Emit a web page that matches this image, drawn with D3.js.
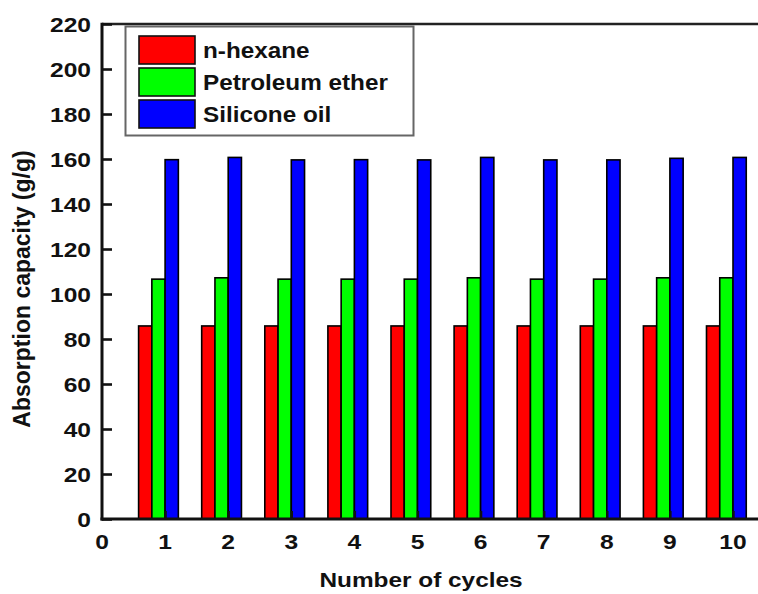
<!DOCTYPE html>
<html>
<head>
<meta charset="utf-8">
<script src="https://cdn.jsdelivr.net/npm/d3@7"></script>
<style>
  html, body { margin: 0; padding: 0; background: #fff; }
  svg { display: block; }
  text { font-family: "Liberation Sans", Arial, sans-serif; font-weight: bold; fill: #111; }
</style>
</head>
<body>
<svg id="chart" width="758" height="594"></svg>
<script>
// Absorption capacity over repeated cycles
const cycles = [1, 2, 3, 4, 5, 6, 7, 8, 9, 10];
const hexane    = [85.8, 85.8, 85.8, 85.8, 85.8, 85.8, 85.8, 85.8, 85.8, 85.8];
const petroleum = [106.6, 107.2, 106.6, 106.6, 106.6, 107.2, 106.6, 106.6, 107.2, 107.2];
const silicone  = [159.7, 160.7, 159.6, 159.7, 159.6, 160.7, 159.6, 159.6, 160.3, 160.7];
const seriesNames = ["n-hexane", "Petroleum ether", "Silicone oil"];
const seriesColors = ["#ff0000", "#00ff00", "#0000ff"];
const yTicks = [0, 20, 40, 60, 80, 100, 120, 140, 160, 180, 200, 220];
const xTicks = [0, 1, 2, 3, 4, 5, 6, 7, 8, 9, 10];

const seriesValues = [hexane, petroleum, silicone];

const svg = d3.select("#chart");
const plotLeft = 102, plotBottom = 519, plotTop = 24;
const x = d3.scaleLinear().domain([0, 11]).range([plotLeft, plotLeft + 11 * 63.1]);
const y = d3.scaleLinear().domain([0, 220]).range([plotBottom, plotTop]);

const barW = 0.21;          // bar width in cycle units
const offsets = [-2, -1, 0]; // bar start offsets in bar widths

// helper: horizontally widened text
function wideText(g, tx, ty, str, size, sx, anchor) {
  const t = g.append("g").attr("transform", `translate(${tx},${ty}) scale(${sx},1)`);
  return t.append("text").attr("x", 0).attr("y", 0)
    .attr("font-size", size).attr("text-anchor", anchor || "start").text(str);
}

// bars
seriesValues.forEach((vals, si) => {
  svg.append("g").selectAll("rect").data(cycles).join("rect")
    .attr("x", (c) => x(c + offsets[si] * barW))
    .attr("width", (c) => x(c + barW) - x(c))
    .attr("y", (c, i) => y(vals[i]))
    .attr("height", (c, i) => y(0) - y(vals[i]))
    .attr("fill", seriesColors[si])
    .attr("stroke", "#000")
    .attr("stroke-width", 1.6);
});

// top frame line
svg.append("line")
  .attr("x1", plotLeft).attr("x2", 800).attr("y1", plotTop).attr("y2", plotTop)
  .attr("stroke", "#222").attr("stroke-width", 2.6);

// y axis (ticks pointing inward)
const yAxis = svg.append("g").attr("transform", `translate(${plotLeft},0)`)
  .call(d3.axisLeft(y).tickValues(yTicks).tickSize(-10).tickFormat(""));
yAxis.select(".domain").remove();
yAxis.selectAll(".tick line").attr("stroke", "#111").attr("stroke-width", 2.6);
svg.append("line").attr("x1", plotLeft).attr("x2", plotLeft).attr("y1", plotTop - 1.3).attr("y2", plotBottom + 1.5)
  .attr("stroke", "#111").attr("stroke-width", 3);

// x axis (small ticks pointing inward)
const xAxis = svg.append("g").attr("transform", `translate(0,${plotBottom})`)
  .call(d3.axisBottom(x).tickValues(xTicks.slice(1)).tickSize(-8).tickFormat(""));
xAxis.select(".domain").remove();
xAxis.selectAll(".tick line").attr("stroke", "#111").attr("stroke-width", 2.4);
svg.append("line").attr("x1", plotLeft - 1.5).attr("x2", 800).attr("y1", plotBottom).attr("y2", plotBottom)
  .attr("stroke", "#111").attr("stroke-width", 3);

// tick labels
const labels = svg.append("g");
yTicks.forEach(v => wideText(labels, 91, y(v) + 7.5, String(v), 20.5, 1.2, "end"));
xTicks.forEach(v => wideText(labels, x(v), 549, String(v), 20.5, 1.2, "middle"));

// axis titles
wideText(svg, 421, 587, "Number of cycles", 20.5, 1.19, "middle");
svg.append("text")
  .attr("transform", "translate(30,289) rotate(-90)")
  .attr("text-anchor", "middle").attr("font-size", 23)
  .text("Absorption capacity (g/g)");

// legend
const legend = svg.append("g");
legend.append("rect")
  .attr("x", 125.5).attr("y", 26.5).attr("width", 288).attr("height", 109)
  .attr("fill", "#fff").attr("stroke", "#666").attr("stroke-width", 2);
seriesNames.forEach((name, i) => {
  const yy = 36 + i * 32;
  legend.append("rect")
    .attr("x", 139).attr("y", yy).attr("width", 56).attr("height", 28)
    .attr("fill", seriesColors[i]).attr("stroke", "#111").attr("stroke-width", 1.6);
  wideText(legend, 203, yy + 22, name, 22.5, 1.08, "start");
});
</script>
</body>
</html>
